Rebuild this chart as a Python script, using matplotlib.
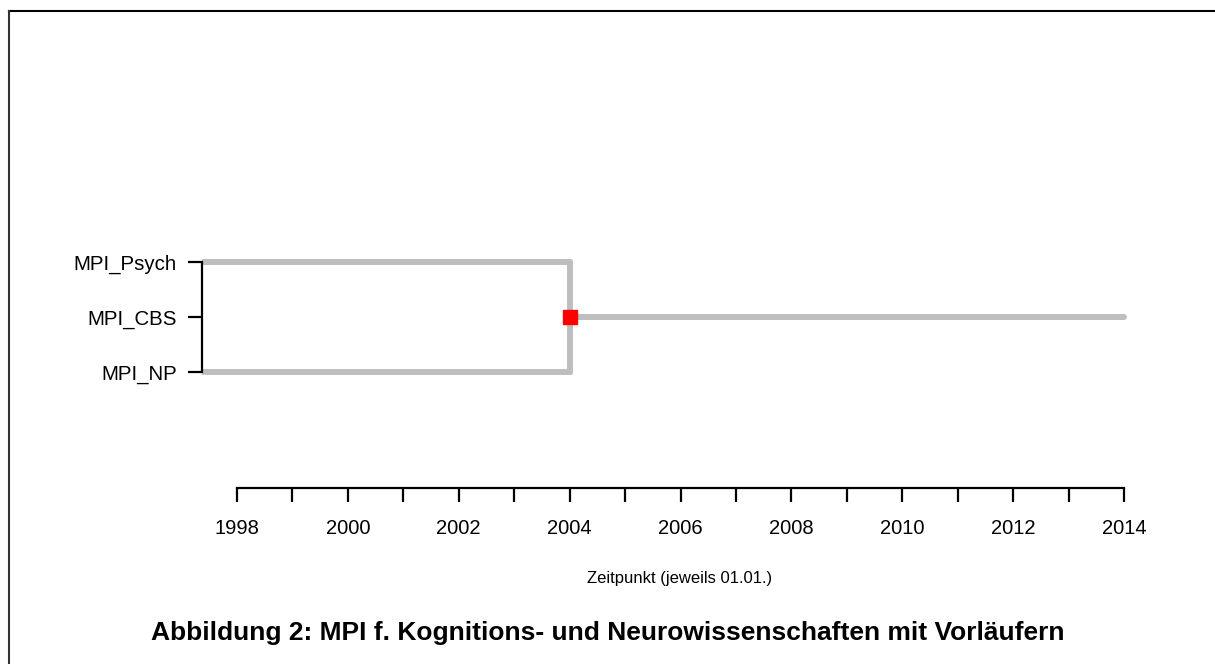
import matplotlib.pyplot as plt
from matplotlib.lines import Line2D

plt.rcParams["font.family"] = ["Liberation Sans", "DejaVu Sans"]

# institutes (bottom to top) and their y positions
institutes = ["MPI_NP", "MPI_CBS", "MPI_Psych"]
positions = [1, 2, 3]

# predecessors run until the merger, successor from merger onward
predecessors = ["MPI_NP", "MPI_Psych"]
merger_year = 2004
successor = "MPI_CBS"
end_year = 2014

year_ticks = list(range(1998, 2015))
year_labels = [str(y) if y % 2 == 0 else "" for y in year_ticks]

GRAY = "#bebebe"

fig = plt.figure(figsize=(12.15, 6.64), dpi=100)
ax = fig.add_axes([202 / 1215, 1 - 488 / 664, 958 / 1215, (488 - 40) / 664])
ax.set_xlim(1998 - 35 / 55.44, 2014 + 36 / 55.44)
ax.set_ylim(1 - 116 / 55, 1 + 332 / 55)

ypos = dict(zip(institutes, positions))
x0 = ax.get_xlim()[0]

for name in predecessors:
    ax.plot([x0, merger_year], [ypos[name], ypos[name]], color=GRAY, lw=4.3,
            solid_capstyle="round", zorder=2)
ys = [ypos[n] for n in predecessors]
ax.plot([merger_year, merger_year], [min(ys), max(ys)], color=GRAY, lw=4.3,
        solid_capstyle="round", zorder=2)
ax.plot([merger_year, end_year], [ypos[successor]] * 2, color=GRAY, lw=4.3,
        solid_capstyle="round", zorder=2)
ax.plot([merger_year], [ypos[successor]], marker="s", color="red",
        markersize=10, zorder=3)

for s in ["top", "right"]:
    ax.spines[s].set_visible(False)
ax.spines["left"].set_bounds(min(positions), max(positions))
ax.spines["bottom"].set_bounds(year_ticks[0], year_ticks[-1])
ax.spines["left"].set_linewidth(1.6)
ax.spines["bottom"].set_linewidth(1.6)

ax.set_yticks(positions)
ax.set_yticklabels(institutes, fontsize=14.7)
ax.set_xticks(year_ticks)
ax.set_xticklabels(year_labels, fontsize=14.5)
ax.tick_params(axis="both", direction="out", length=10, width=1.6)
ax.tick_params(axis="x", pad=12.5)
ax.tick_params(axis="y", pad=8)

fig.text(680 / 1215, 1 - 578 / 664, "Zeitpunkt (jeweils 01.01.)",
         ha="center", va="center", fontsize=12)
fig.text(608 / 1215, 1 - 633 / 664,
         "Abbildung 2: MPI f. Kognitions- und Neurowissenschaften mit Vorläufern",
         ha="center", va="center", fontsize=19, fontweight="bold")

# partial frame around the figure
fig.add_artist(Line2D([9 / 1215, 1], [1 - 11 / 664, 1 - 11 / 664],
                      color="black", lw=1.5, transform=fig.transFigure))
fig.add_artist(Line2D([9 / 1215, 9 / 1215], [0, 1 - 11 / 664],
                      color="#333333", lw=1.5, transform=fig.transFigure))

fig.savefig("out.png", dpi=100)
